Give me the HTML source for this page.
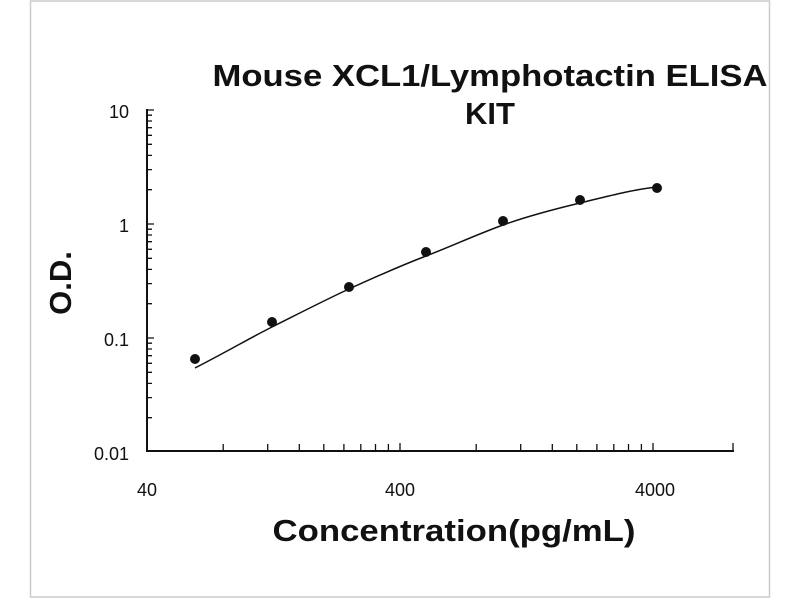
<!DOCTYPE html>
<html><head><style>body{margin:0;background:#fff}svg{display:block}</style></head><body>
<svg width="800" height="600" xmlns="http://www.w3.org/2000/svg" font-family="Liberation Sans, Arial, sans-serif">
<rect x="0" y="0" width="800" height="600" fill="#fff"/>
<rect x="30.5" y="1" width="739" height="596" fill="none" stroke="#ccc" stroke-width="1.5"/>
<text x="490" y="86" font-size="31" font-weight="bold" text-anchor="middle" fill="#111" textLength="555" lengthAdjust="spacingAndGlyphs">Mouse XCL1/Lymphotactin ELISA</text>
<text x="490" y="124" font-size="31" font-weight="bold" text-anchor="middle" fill="#111">KIT</text>
<g stroke="#111" stroke-width="2" fill="none">
<line x1="147" y1="109" x2="147" y2="452"/>
<line x1="146" y1="451" x2="734" y2="451"/>
</g>
<path stroke="#111" stroke-width="1.3" fill="none" d="
M147,417.7h5M147,397.6h5M147,383.4h5M147,372.3h5M147,363.3h5M147,355.7h5M147,349h5M147,343.2h5M147,338h7
M147,303.7h5M147,283.6h5M147,269.4h5M147,258.3h5M147,249.3h5M147,241.7h5M147,235h5M147,229.2h5M147,224h7
M147,189.7h5M147,169.6h5M147,155.4h5M147,144.3h5M147,135.3h5M147,127.7h5M147,121h5M147,115.2h5M147,110h7
M223.2,451v-7M267.7,451v-7M299.3,451v-7M323.8,451v-7M343.9,451v-7M360.8,451v-7M375.5,451v-7M388.4,451v-7M400,451v-8
M476.2,451v-7M520.7,451v-7M552.3,451v-7M576.8,451v-7M596.9,451v-7M613.8,451v-7M628.5,451v-7M641.4,451v-7M653,451v-8
M733,451v-8"/>
<g font-size="18" fill="#111" text-anchor="end">
<text x="129" y="118">10</text><text x="129" y="232">1</text><text x="129" y="346">0.1</text><text x="129" y="460">0.01</text>
</g>
<g font-size="18" fill="#111" text-anchor="middle">
<text x="147" y="496">40</text><text x="400" y="496">400</text><text x="655" y="496">4000</text>
</g>
<text x="454" y="541" font-size="31" font-weight="bold" text-anchor="middle" fill="#111" textLength="363" lengthAdjust="spacingAndGlyphs">Concentration(pg/mL)</text>
<text transform="translate(71,283) rotate(-90)" font-size="31" font-weight="bold" text-anchor="middle" fill="#111">O.D.</text>
<path d="M195,368 C230,350 250,338 272,327 S325,300 349,289 S400,266 426,256 S478,234 503,225 S555,209 580,203 S630,190 657,187" fill="none" stroke="#111" stroke-width="1.5"/>
<g fill="#111">
<circle cx="195" cy="359" r="5"/><circle cx="272" cy="322" r="5"/><circle cx="349" cy="287" r="5"/><circle cx="426" cy="252" r="5"/><circle cx="503" cy="221" r="5"/><circle cx="580" cy="200" r="5"/><circle cx="657" cy="188" r="5"/>
</g>
</svg>
</body></html>
